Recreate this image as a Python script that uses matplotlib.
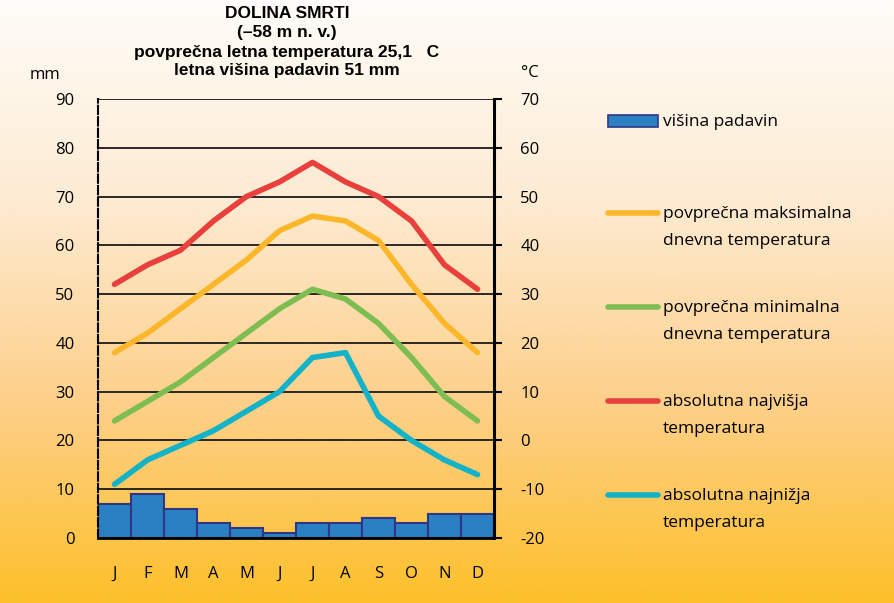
import matplotlib
matplotlib.use("Agg")
import matplotlib.pyplot as plt
import numpy as np
from matplotlib.lines import Line2D
from matplotlib.patches import Rectangle
from matplotlib.colors import LinearSegmentedColormap

months = ["J", "F", "M", "A", "M", "J", "J", "A", "S", "O", "N", "D"]
precip = [7, 9, 6, 3, 2, 1, 3, 3, 4, 3, 5, 5]
abs_max = [32, 36, 39, 45, 50, 53, 57, 53, 50, 45, 36, 31]
avg_max = [18, 22, 27, 32, 37, 43, 46, 45, 41, 32, 24, 18]
avg_min = [4, 8, 12, 17, 22, 27, 31, 29, 24, 17, 9, 4]
abs_min = [-9, -4, -1, 2, 6, 10, 17, 18, 5, 0, -4, -7]
mm_ticks = list(range(0, 91, 10))
c_ticks = list(range(-20, 71, 10))

title_lines = ["DOLINA SMRTI", "(–58 m n. v.)",
               "povprečna letna temperatura 25,1   C",
               "letna višina padavin 51 mm"]
legend_labels = ["višina padavin",
                 "povprečna maksimalna\ndnevna temperatura",
                 "povprečna minimalna\ndnevna temperatura",
                 "absolutna najvišja\ntemperatura",
                 "absolutna najnižja\ntemperatura"]

C_BAR = "#2a80c2"
C_BAR_EDGE = "#2f3685"
C_RED = "#e9403d"
C_ORANGE = "#fcb62a"
C_GREEN = "#7dbd52"
C_CYAN = "#12b2c8"

W, H = 894, 603
fig = plt.figure(figsize=(W / 100, H / 100), dpi=100)

# background gradient
bg = fig.add_axes([0, 0, 1, 1], zorder=-10)
grad = np.linspace(0, 1, 256)[:, None]
cmap = LinearSegmentedColormap.from_list("bg", ["#fffdf9", "#fdebd2", "#fdd08a", "#fdc02a"])
bg.imshow(grad, aspect="auto", cmap=cmap, extent=[0, 1, 0, 1], origin="upper")
bg.set_axis_off()

font = "Open Sans"
left, right = 98 / W, 494 / W
top, bottom = 1 - 99 / H, 1 - 538 / H
ax = fig.add_axes([left, bottom, right - left, top - bottom])
ax.patch.set_alpha(0)
x = np.arange(len(months))
ax.bar(x, precip, width=1.0, color=C_BAR, edgecolor=C_BAR_EDGE, linewidth=1.5, zorder=2)
ax.set_xlim(-0.5, 11.5)
ax.set_ylim(0, 90)
ax.set_yticks(mm_ticks)
ax.set_yticklabels([str(t) for t in mm_ticks], fontfamily=font, fontsize=12)
ax.set_xticks(x)
ax.set_xticklabels(months, fontfamily=font, fontsize=12)
ax.tick_params(axis="y", length=0, pad=17)
ax.tick_params(axis="x", length=0, pad=20)
for t in mm_ticks[1:]:
    ax.axhline(t, color="#1a1a1a", lw=1.3, zorder=1)
ax.spines["top"].set_visible(False)
ax.spines["right"].set_visible(False)
ax.spines["left"].set_linestyle((0, (4, 1.5)))
ax.spines["left"].set_linewidth(1.5)
ax.spines["bottom"].set_linewidth(2)

ax2 = ax.twinx()
ax2.set_ylim(-20, 70)
ax2.set_yticks(c_ticks)
ax2.set_yticklabels([str(t) for t in c_ticks], fontfamily=font, fontsize=12)
ax2.tick_params(axis="y", length=6, width=1.5, pad=13, direction="out")
for s in ["top", "left", "bottom"]:
    ax2.spines[s].set_visible(False)
ax2.spines["right"].set_linewidth(2.2)
for data, col in [(abs_max, C_RED), (avg_max, C_ORANGE), (avg_min, C_GREEN), (abs_min, C_CYAN)]:
    ax2.plot(x, data, color=col, lw=4, solid_capstyle="round", solid_joinstyle="round", zorder=3)

fig.text(45 / W, 1 - 75 / H, "mm", fontfamily=font, fontsize=12, ha="center", va="center")
fig.text(530 / W, 1 - 73 / H, "°C", fontfamily=font, fontsize=12, ha="center", va="center")

ys = [14, 33, 52, 71]
for line, yy in zip(title_lines, ys):
    fig.text(287 / W, 1 - yy / H, line, fontfamily="Liberation Sans", fontweight="bold",
             fontsize=12.5, ha="center", va="center")

# legend
rows = [121, 213, 307, 401, 495]
colors = [None, C_ORANGE, C_GREEN, C_RED, C_CYAN]
for lab, yy, col in zip(legend_labels, rows, colors):
    yf = 1 - yy / H
    if col is None:
        fig.patches.append(Rectangle((608 / W, 1 - 127 / H), 50 / W, 12 / H,
                                     transform=fig.transFigure, facecolor=C_BAR,
                                     edgecolor=C_BAR_EDGE, lw=1.2))
    else:
        fig.lines.append(Line2D([608 / W, 658 / W], [yf, yf], transform=fig.transFigure,
                                color=col, lw=4, solid_capstyle="round"))
    fig.text(663 / W, yf + 7 / H, lab, fontfamily=font, fontsize=12.5, ha="left", va="top",
             linespacing=1.9)

fig.savefig("out.png", dpi=100)
